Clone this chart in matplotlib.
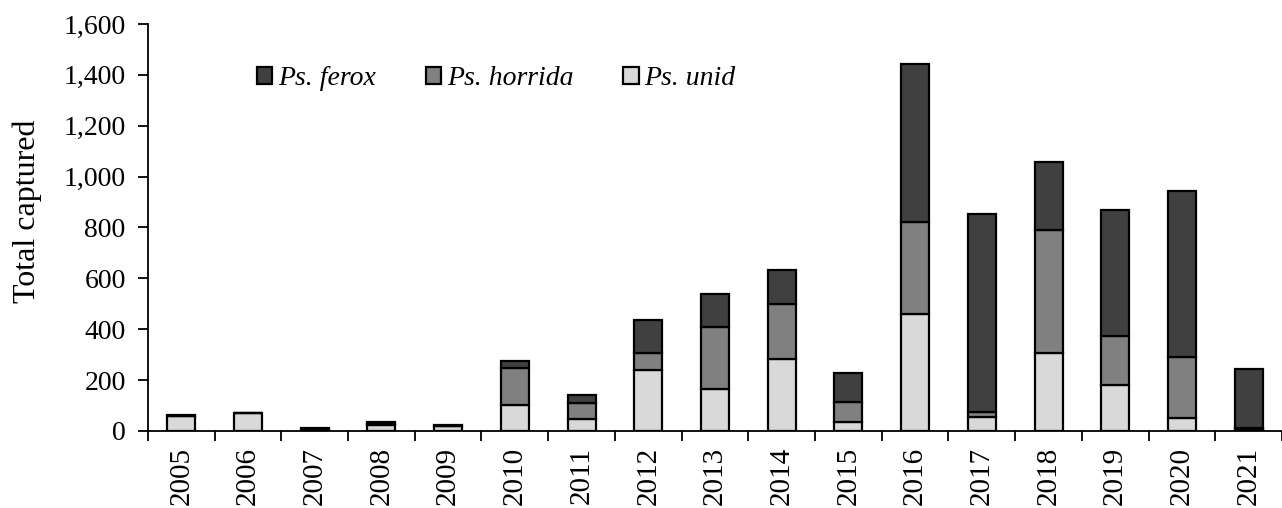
import matplotlib.pyplot as plt
import numpy as np

# =====================================================
# Data
# =====================================================
years = [str(y) for y in range(2005, 2022)]
unid = [57, 72, 2, 25, 20, 104, 48, 241, 165, 283, 34, 461, 56, 305, 179, 50, 8]
horrida = [0, 0, 3, 3, 1, 142, 62, 64, 244, 215, 81, 362, 20, 485, 195, 241, 3]
ferox = [4, 0, 8, 8, 4, 28, 32, 130, 128, 134, 113, 621, 778, 268, 494, 651, 234]

plt.rcParams["font.family"] = ["Liberation Serif", "DejaVu Serif"]

fig = plt.figure(figsize=(12.82, 5.08), dpi=100)
ax = fig.add_axes([0.1154, 0.1516, 0.8846, 0.8012])

x = np.arange(len(years))
unid_a = np.array(unid)
hor_a = np.array(horrida)
fer_a = np.array(ferox)

bar_kw = dict(width=0.42, edgecolor="black", linewidth=1.6)
ax.bar(x, unid_a, color="#d9d9d9", label="Ps. unid", **bar_kw)
ax.bar(x, hor_a, bottom=unid_a, color="#808080", label="Ps. horrida", **bar_kw)
ax.bar(x, fer_a, bottom=unid_a + hor_a, color="#404040", label="Ps. ferox", **bar_kw)

ax.set_xlim(-0.5, len(years) - 0.5)
ax.set_ylim(0, 1600)
ax.set_yticks(np.arange(0, 1601, 200))
ax.set_yticklabels([f"{v:,}" for v in range(0, 1601, 200)], fontsize=20)

ax.set_xticks(x)
ax.set_xticklabels(years, rotation=90, fontsize=21)
ax.set_xticks(np.arange(-0.5, len(years), 1.0), minor=True)
ax.tick_params(axis="x", which="major", length=0, pad=11.5)
ax.tick_params(axis="x", which="minor", length=7, width=1.3, direction="out")
ax.tick_params(axis="y", length=7, width=1.3, direction="out", pad=9)

ax.spines["top"].set_visible(False)
ax.spines["right"].set_visible(False)
ax.spines["left"].set_linewidth(1.3)
ax.spines["bottom"].set_linewidth(1.3)

ax.set_ylabel("Total captured", fontsize=23)
ax.yaxis.set_label_coords(-0.0935, 0.54)

handles, labels = ax.get_legend_handles_labels()
leg = ax.legend(
    handles[::-1],
    labels[::-1],
    loc="center left",
    bbox_to_anchor=(0.0743, 0.865),
    ncol=3,
    frameon=False,
    handlelength=0.55,
    handleheight=0.55,
    handletextpad=0.2,
    columnspacing=1.8,
    prop={"size": 20, "style": "italic"},
)

fig.savefig("out.png", dpi=100)
